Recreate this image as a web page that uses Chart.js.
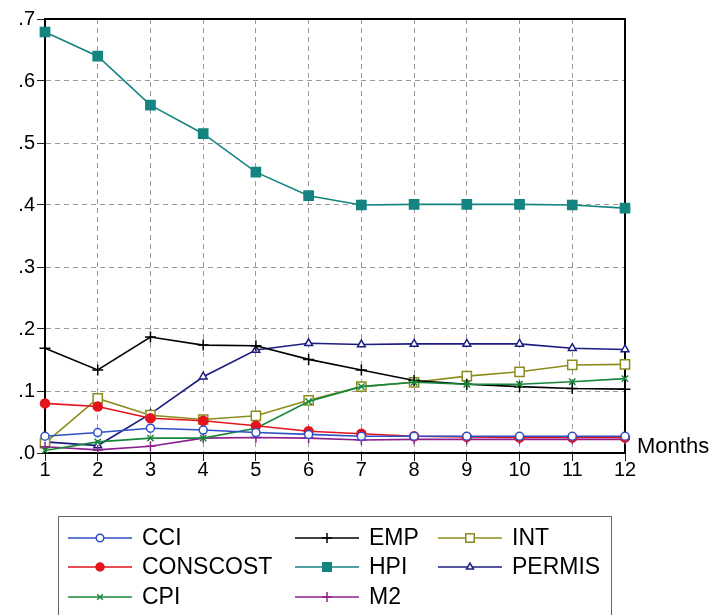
<!DOCTYPE html>
<html>
<head>
<meta charset="utf-8">
<script src="https://cdn.jsdelivr.net/npm/chart.js@4/dist/chart.umd.min.js"></script>
<style>
    body { margin: 0; background: #fff; }
    #wrap { width: 714px; height: 615px; position: relative; }
</style>
</head>
<body>
<div id="wrap"><canvas id="responseChart"></canvas></div>
<script>
const months = ['1', '2', '3', '4', '5', '6', '7', '8', '9', '10', '11', '12'];

const cci = [0.027, 0.033, 0.040, 0.037, 0.033, 0.030, 0.027, 0.027, 0.027, 0.027, 0.027, 0.027];
const conscost = [0.080, 0.075, 0.056, 0.052, 0.044, 0.035, 0.031, 0.027, 0.026, 0.025, 0.025, 0.025];
const cpi = [0.004, 0.018, 0.024, 0.024, 0.040, 0.083, 0.107, 0.114, 0.111, 0.111, 0.115, 0.120];
const emp = [0.169, 0.134, 0.187, 0.174, 0.173, 0.151, 0.134, 0.117, 0.111, 0.107, 0.104, 0.103];
const hpi = [0.679, 0.640, 0.561, 0.515, 0.453, 0.415, 0.400, 0.401, 0.401, 0.401, 0.400, 0.395];
const m2 = [0.010, 0.005, 0.011, 0.024, 0.025, 0.024, 0.021, 0.022, 0.022, 0.022, 0.022, 0.022];
const int = [0.016, 0.088, 0.061, 0.054, 0.060, 0.085, 0.107, 0.114, 0.124, 0.131, 0.142, 0.143];
const permis = [0.018, 0.012, 0.063, 0.123, 0.166, 0.177, 0.175, 0.176, 0.176, 0.176, 0.169, 0.167];

const yTicks = [0, 0.1, 0.2, 0.3, 0.4, 0.5, 0.6, 0.7];

const FONT = "'Liberation Sans', Arial, sans-serif";

function series(label, data, color, style, fill, radius, legendRadius) {
    return {
        label: label,
        data: data,
        borderColor: color,
        backgroundColor: fill,
        pointBorderColor: color,
        pointBackgroundColor: fill,
        pointStyle: style,
        pointRadius: radius,
        pointBorderWidth: 1.5,
        borderWidth: 1.6,
        tension: 0,
        legendRadius: legendRadius
    };
}

// legend drawn column by column, like the original
const legendBox = {
    id: 'legendBox',
    afterDraw(chart) {
        const ctx = chart.ctx;
        const colX = [68, 295, 438];
        const rowY = [538, 567, 597];
        ctx.save();
        ctx.strokeStyle = '#666';
        ctx.lineWidth = 1;
        ctx.strokeRect(58.5, 516.5, 553, 120);
        chart.data.datasets.forEach((ds, i) => {
            const x = colX[Math.floor(i / 3)];
            const y = rowY[i % 3];
            ctx.strokeStyle = ds.borderColor;
            ctx.lineWidth = 1.6;
            ctx.beginPath();
            ctx.moveTo(x, y);
            ctx.lineTo(x + 64, y);
            ctx.stroke();
            ctx.fillStyle = ds.pointBackgroundColor;
            ctx.lineWidth = 1.5;
            Chart.helpers.drawPoint(ctx, {
                pointStyle: ds.pointStyle,
                radius: ds.legendRadius,
                rotation: 0,
                borderWidth: 1.5
            }, x + 32, y);
            ctx.fillStyle = '#000';
            ctx.font = '23px ' + FONT;
            ctx.textBaseline = 'middle';
            ctx.textAlign = 'left';
            ctx.fillText(ds.label, x + 74, y + 1);
        });
        ctx.font = '22px ' + FONT;
        ctx.textBaseline = 'alphabetic';
        ctx.fillText('Months', 637, 453);
        ctx.restore();
    }
};

const frameBox = {
    id: 'frameBox',
    beforeDatasetsDraw(chart) {
        const a = chart.chartArea;
        const ctx = chart.ctx;
        ctx.save();
        ctx.strokeStyle = '#000';
        ctx.lineWidth = 2;
        ctx.strokeRect(a.left, a.top, a.right - a.left, a.bottom - a.top);
        ctx.restore();
    }
};

document.addEventListener('DOMContentLoaded', () => {
    const ctx = document.getElementById('responseChart').getContext('2d');

    new Chart(ctx, {
        type: 'line',
        data: {
            labels: months,
            datasets: [
                series('CCI', cci, '#2f4fc4', 'circle', '#ffffff', 4, 3.8),
                series('CONSCOST', conscost, '#e5141c', 'circle', '#e5141c', 4.5, 4),
                series('CPI', cpi, '#17883a', 'crossRot', '#17883a', 4.5, 4),
                series('EMP', emp, '#000000', 'cross', '#000000', 5.5, 5),
                series('HPI', hpi, '#138480', 'rect', '#138480', 6.5, 6),
                series('M2', m2, '#8b1f8f', 'cross', '#8b1f8f', 5, 5),
                series('INT', int, '#8c8c1e', 'rect', '#ffffff', 6.5, 6),
                series('PERMIS', permis, '#1c1c82', 'triangle', '#ffffff', 4.5, 4)
            ]
        },
        options: {
            responsive: true,
            maintainAspectRatio: false,
            animation: false,
            layout: {
                padding: { left: 0, top: 19, right: 89, bottom: 132 }
            },
            plugins: {
                legend: { display: false },
                tooltip: { enabled: false }
            },
            scales: {
                x: {
                    offset: false,
                    afterFit: (scale) => { scale.height = 30; },
                    grid: {
                        color: '#999999',
                        lineWidth: 1,
                        tickLength: 8,
                        tickColor: '#222',
                        drawOnChartArea: true
                    },
                    border: { color: '#000', width: 2, dash: [5, 4] },
                    ticks: {
                        color: '#000',
                        padding: -3,
                        maxRotation: 0,
                        font: { family: FONT, size: 20 }
                    }
                },
                y: {
                    min: 0,
                    max: 0.7,
                    afterFit: (scale) => { scale.width = 45; },
                    afterBuildTicks: (scale) => {
                        scale.ticks = yTicks.map(v => ({ value: v }));
                    },
                    grid: {
                        color: '#999999',
                        lineWidth: 1,
                        tickLength: 8,
                        tickColor: '#222'
                    },
                    border: { color: '#000', width: 2, dash: [5, 4] },
                    ticks: {
                        color: '#000',
                        padding: 2,
                        font: { family: FONT, size: 20 },
                        callback: (value) => value.toFixed(1).replace(/^0/, '')
                    }
                }
            }
        },
        plugins: [frameBox, legendBox]
    });
});
</script>
</body>
</html>
